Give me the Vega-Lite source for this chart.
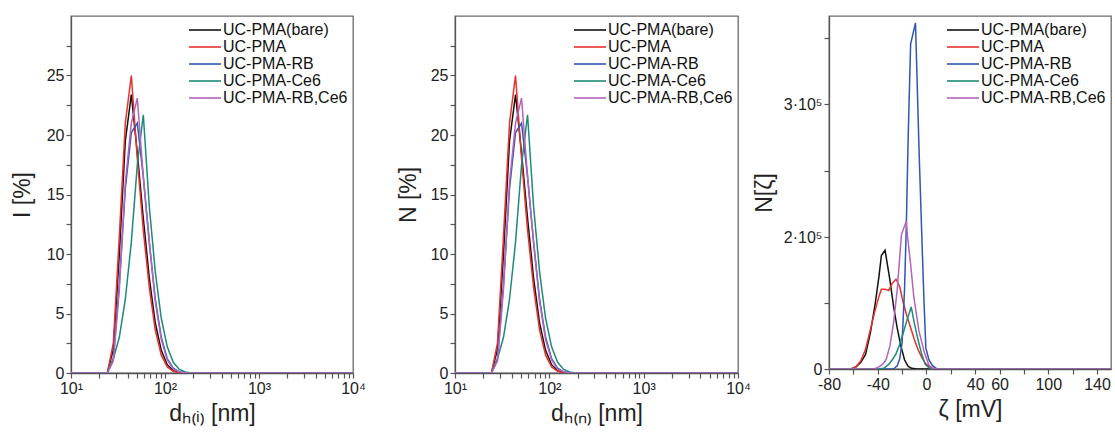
{
  "$schema": "https://vega.github.io/schema/vega-lite/v6.json",
  "background": "white",
  "padding": {"left": 10, "top": 15, "right": 0, "bottom": 0},
  "config": {
    "font": "Liberation Sans",
    "view": {"stroke": "#6a6a6a", "strokeWidth": 1.3},
    "axis": {"domainColor": "#555", "domainWidth": 1.3, "tickColor": "#555", "tickWidth": 1.2, "labelColor": "#222", "titleColor": "#222", "labelFontSize": 16, "titleFontSize": 23, "titleFontWeight": "normal", "grid": false, "tickSize": 5, "labelPadding": 2, "labelFont": "Liberation Sans", "titleFont": "Liberation Sans"},
    "legend": {"orient": "top-right", "symbolType": "M-2,0H2", "symbolSize": 256, "symbolStrokeWidth": 1.6, "labelFontSize": 16, "labelColor": "#111", "labelFont": "Liberation Sans", "labelOffset": 9, "rowPadding": -2.5, "offset": 5, "padding": 0}
  },
  "datasets": {
    "size": [
      {"d": 10, "series": "UC-PMA(bare)", "I": 0, "N": 0},
      {"d": 21.04, "series": "UC-PMA(bare)", "I": 0, "N": 0},
      {"d": 24.36, "series": "UC-PMA(bare)", "I": 0, "N": 0},
      {"d": 28.21, "series": "UC-PMA(bare)", "I": 2.0, "N": 2.0},
      {"d": 32.67, "series": "UC-PMA(bare)", "I": 10.0, "N": 10.0},
      {"d": 37.84, "series": "UC-PMA(bare)", "I": 19.5, "N": 19.5},
      {"d": 43.82, "series": "UC-PMA(bare)", "I": 23.4, "N": 23.4},
      {"d": 50.75, "series": "UC-PMA(bare)", "I": 18.5, "N": 18.5},
      {"d": 58.77, "series": "UC-PMA(bare)", "I": 13.0, "N": 13.0},
      {"d": 68.06, "series": "UC-PMA(bare)", "I": 8.0, "N": 8.0},
      {"d": 78.82, "series": "UC-PMA(bare)", "I": 4.2, "N": 4.2},
      {"d": 91.28, "series": "UC-PMA(bare)", "I": 1.9, "N": 1.9},
      {"d": 105.7, "series": "UC-PMA(bare)", "I": 0.7, "N": 0.7},
      {"d": 122.4, "series": "UC-PMA(bare)", "I": 0.2, "N": 0.2},
      {"d": 141.8, "series": "UC-PMA(bare)", "I": 0.05, "N": 0.05},
      {"d": 164.2, "series": "UC-PMA(bare)", "I": 0, "N": 0},
      {"d": 10000, "series": "UC-PMA(bare)", "I": 0, "N": 0},
      {"d": 10, "series": "UC-PMA", "I": 0, "N": 0},
      {"d": 21.04, "series": "UC-PMA", "I": 0, "N": 0},
      {"d": 24.36, "series": "UC-PMA", "I": 0, "N": 0},
      {"d": 28.21, "series": "UC-PMA", "I": 2.5, "N": 2.5},
      {"d": 32.67, "series": "UC-PMA", "I": 11.5, "N": 11.5},
      {"d": 37.84, "series": "UC-PMA", "I": 21.0, "N": 21.0},
      {"d": 43.82, "series": "UC-PMA", "I": 25.0, "N": 25.0},
      {"d": 50.75, "series": "UC-PMA", "I": 18.0, "N": 18.0},
      {"d": 58.77, "series": "UC-PMA", "I": 12.0, "N": 12.0},
      {"d": 68.06, "series": "UC-PMA", "I": 7.2, "N": 7.2},
      {"d": 78.82, "series": "UC-PMA", "I": 3.6, "N": 3.6},
      {"d": 91.28, "series": "UC-PMA", "I": 1.5, "N": 1.5},
      {"d": 105.7, "series": "UC-PMA", "I": 0.5, "N": 0.5},
      {"d": 122.4, "series": "UC-PMA", "I": 0.15, "N": 0.15},
      {"d": 141.8, "series": "UC-PMA", "I": 0, "N": 0},
      {"d": 10000, "series": "UC-PMA", "I": 0, "N": 0},
      {"d": 10, "series": "UC-PMA-RB", "I": 0, "N": 0},
      {"d": 21.04, "series": "UC-PMA-RB", "I": 0, "N": 0},
      {"d": 24.36, "series": "UC-PMA-RB", "I": 0, "N": 0},
      {"d": 28.21, "series": "UC-PMA-RB", "I": 1.2, "N": 1.2},
      {"d": 32.67, "series": "UC-PMA-RB", "I": 7.5, "N": 7.5},
      {"d": 37.84, "series": "UC-PMA-RB", "I": 15.5, "N": 15.5},
      {"d": 43.82, "series": "UC-PMA-RB", "I": 20.2, "N": 20.2},
      {"d": 50.75, "series": "UC-PMA-RB", "I": 21.0, "N": 21.0},
      {"d": 58.77, "series": "UC-PMA-RB", "I": 16.5, "N": 16.5},
      {"d": 68.06, "series": "UC-PMA-RB", "I": 11.0, "N": 11.0},
      {"d": 78.82, "series": "UC-PMA-RB", "I": 6.2, "N": 6.2},
      {"d": 91.28, "series": "UC-PMA-RB", "I": 3.0, "N": 3.0},
      {"d": 105.7, "series": "UC-PMA-RB", "I": 1.2, "N": 1.2},
      {"d": 122.4, "series": "UC-PMA-RB", "I": 0.4, "N": 0.4},
      {"d": 141.8, "series": "UC-PMA-RB", "I": 0.1, "N": 0.1},
      {"d": 164.2, "series": "UC-PMA-RB", "I": 0, "N": 0},
      {"d": 10000, "series": "UC-PMA-RB", "I": 0, "N": 0},
      {"d": 10, "series": "UC-PMA-Ce6", "I": 0, "N": 0},
      {"d": 21.04, "series": "UC-PMA-Ce6", "I": 0, "N": 0},
      {"d": 24.36, "series": "UC-PMA-Ce6", "I": 0, "N": 0},
      {"d": 28.21, "series": "UC-PMA-Ce6", "I": 1.2, "N": 1.2},
      {"d": 32.67, "series": "UC-PMA-Ce6", "I": 3.0, "N": 3.0},
      {"d": 37.84, "series": "UC-PMA-Ce6", "I": 6.2, "N": 6.2},
      {"d": 43.82, "series": "UC-PMA-Ce6", "I": 11.0, "N": 11.0},
      {"d": 50.75, "series": "UC-PMA-Ce6", "I": 17.5, "N": 17.5},
      {"d": 58.77, "series": "UC-PMA-Ce6", "I": 21.7, "N": 21.7},
      {"d": 68.06, "series": "UC-PMA-Ce6", "I": 14.0, "N": 14.0},
      {"d": 78.82, "series": "UC-PMA-Ce6", "I": 8.5, "N": 8.5},
      {"d": 91.28, "series": "UC-PMA-Ce6", "I": 4.6, "N": 4.6},
      {"d": 105.7, "series": "UC-PMA-Ce6", "I": 2.2, "N": 2.2},
      {"d": 122.4, "series": "UC-PMA-Ce6", "I": 0.9, "N": 0.9},
      {"d": 141.8, "series": "UC-PMA-Ce6", "I": 0.3, "N": 0.3},
      {"d": 164.2, "series": "UC-PMA-Ce6", "I": 0.08, "N": 0.08},
      {"d": 190.1, "series": "UC-PMA-Ce6", "I": 0, "N": 0},
      {"d": 10000, "series": "UC-PMA-Ce6", "I": 0, "N": 0},
      {"d": 10, "series": "UC-PMA-RB,Ce6", "I": 0, "N": 0},
      {"d": 21.04, "series": "UC-PMA-RB,Ce6", "I": 0, "N": 0},
      {"d": 24.36, "series": "UC-PMA-RB,Ce6", "I": 0, "N": 0},
      {"d": 28.21, "series": "UC-PMA-RB,Ce6", "I": 1.0, "N": 1.0},
      {"d": 32.67, "series": "UC-PMA-RB,Ce6", "I": 7.0, "N": 7.0},
      {"d": 37.84, "series": "UC-PMA-RB,Ce6", "I": 16.0, "N": 16.0},
      {"d": 43.82, "series": "UC-PMA-RB,Ce6", "I": 21.0, "N": 21.0},
      {"d": 50.75, "series": "UC-PMA-RB,Ce6", "I": 23.1, "N": 23.1},
      {"d": 58.77, "series": "UC-PMA-RB,Ce6", "I": 16.5, "N": 16.5},
      {"d": 68.06, "series": "UC-PMA-RB,Ce6", "I": 11.0, "N": 11.0},
      {"d": 78.82, "series": "UC-PMA-RB,Ce6", "I": 6.0, "N": 6.0},
      {"d": 91.28, "series": "UC-PMA-RB,Ce6", "I": 2.8, "N": 2.8},
      {"d": 105.7, "series": "UC-PMA-RB,Ce6", "I": 1.1, "N": 1.1},
      {"d": 122.4, "series": "UC-PMA-RB,Ce6", "I": 0.35, "N": 0.35},
      {"d": 141.8, "series": "UC-PMA-RB,Ce6", "I": 0.1, "N": 0.1},
      {"d": 164.2, "series": "UC-PMA-RB,Ce6", "I": 0, "N": 0},
      {"d": 10000, "series": "UC-PMA-RB,Ce6", "I": 0, "N": 0}
    ],
    "zeta": [
      {"mV": -80, "series": "UC-PMA(bare)", "n": 0},
      {"mV": -62, "series": "UC-PMA(bare)", "n": 0},
      {"mV": -58, "series": "UC-PMA(bare)", "n": 3000},
      {"mV": -54, "series": "UC-PMA(bare)", "n": 10000},
      {"mV": -50, "series": "UC-PMA(bare)", "n": 22000},
      {"mV": -46, "series": "UC-PMA(bare)", "n": 55000},
      {"mV": -42, "series": "UC-PMA(bare)", "n": 100000},
      {"mV": -39, "series": "UC-PMA(bare)", "n": 140000},
      {"mV": -37, "series": "UC-PMA(bare)", "n": 172000},
      {"mV": -34, "series": "UC-PMA(bare)", "n": 180000},
      {"mV": -30, "series": "UC-PMA(bare)", "n": 135000},
      {"mV": -27, "series": "UC-PMA(bare)", "n": 95000},
      {"mV": -24, "series": "UC-PMA(bare)", "n": 62000},
      {"mV": -21, "series": "UC-PMA(bare)", "n": 35000},
      {"mV": -18, "series": "UC-PMA(bare)", "n": 14000},
      {"mV": -15, "series": "UC-PMA(bare)", "n": 4000},
      {"mV": -12, "series": "UC-PMA(bare)", "n": 1000},
      {"mV": -8, "series": "UC-PMA(bare)", "n": 0},
      {"mV": 151.5, "series": "UC-PMA(bare)", "n": 0},
      {"mV": -80, "series": "UC-PMA", "n": 0},
      {"mV": -62, "series": "UC-PMA", "n": 0},
      {"mV": -58, "series": "UC-PMA", "n": 3000},
      {"mV": -54, "series": "UC-PMA", "n": 12000},
      {"mV": -50, "series": "UC-PMA", "n": 30000},
      {"mV": -46, "series": "UC-PMA", "n": 60000},
      {"mV": -42, "series": "UC-PMA", "n": 90000},
      {"mV": -39, "series": "UC-PMA", "n": 110000},
      {"mV": -37, "series": "UC-PMA", "n": 121000},
      {"mV": -34, "series": "UC-PMA", "n": 121000},
      {"mV": -31, "series": "UC-PMA", "n": 119000},
      {"mV": -28, "series": "UC-PMA", "n": 130000},
      {"mV": -25, "series": "UC-PMA", "n": 136000},
      {"mV": -22, "series": "UC-PMA", "n": 125000},
      {"mV": -19, "series": "UC-PMA", "n": 100000},
      {"mV": -16, "series": "UC-PMA", "n": 80000},
      {"mV": -13, "series": "UC-PMA", "n": 63000},
      {"mV": -10, "series": "UC-PMA", "n": 45000},
      {"mV": -7, "series": "UC-PMA", "n": 30000},
      {"mV": -4, "series": "UC-PMA", "n": 18000},
      {"mV": -1, "series": "UC-PMA", "n": 9000},
      {"mV": 2, "series": "UC-PMA", "n": 4000},
      {"mV": 5, "series": "UC-PMA", "n": 1000},
      {"mV": 8, "series": "UC-PMA", "n": 0},
      {"mV": 151.5, "series": "UC-PMA", "n": 0},
      {"mV": -80, "series": "UC-PMA-RB", "n": 0},
      {"mV": -27, "series": "UC-PMA-RB", "n": 0},
      {"mV": -24, "series": "UC-PMA-RB", "n": 5000},
      {"mV": -22, "series": "UC-PMA-RB", "n": 15000},
      {"mV": -20, "series": "UC-PMA-RB", "n": 40000},
      {"mV": -18, "series": "UC-PMA-RB", "n": 120000},
      {"mV": -16.5, "series": "UC-PMA-RB", "n": 210000},
      {"mV": -15, "series": "UC-PMA-RB", "n": 275000},
      {"mV": -13, "series": "UC-PMA-RB", "n": 345000},
      {"mV": -9, "series": "UC-PMA-RB", "n": 361000},
      {"mV": -6, "series": "UC-PMA-RB", "n": 263000},
      {"mV": -4, "series": "UC-PMA-RB", "n": 206000},
      {"mV": -2, "series": "UC-PMA-RB", "n": 102000},
      {"mV": -0.5, "series": "UC-PMA-RB", "n": 32000},
      {"mV": 2, "series": "UC-PMA-RB", "n": 14000},
      {"mV": 5, "series": "UC-PMA-RB", "n": 5000},
      {"mV": 9, "series": "UC-PMA-RB", "n": 0},
      {"mV": 151.5, "series": "UC-PMA-RB", "n": 0},
      {"mV": -80, "series": "UC-PMA-Ce6", "n": 0},
      {"mV": -40, "series": "UC-PMA-Ce6", "n": 0},
      {"mV": -35, "series": "UC-PMA-Ce6", "n": 1000},
      {"mV": -31, "series": "UC-PMA-Ce6", "n": 7000},
      {"mV": -28, "series": "UC-PMA-Ce6", "n": 14000},
      {"mV": -25, "series": "UC-PMA-Ce6", "n": 23000},
      {"mV": -22, "series": "UC-PMA-Ce6", "n": 37000},
      {"mV": -19, "series": "UC-PMA-Ce6", "n": 55000},
      {"mV": -16, "series": "UC-PMA-Ce6", "n": 74000},
      {"mV": -12.5, "series": "UC-PMA-Ce6", "n": 94000},
      {"mV": -10, "series": "UC-PMA-Ce6", "n": 70000},
      {"mV": -7, "series": "UC-PMA-Ce6", "n": 45000},
      {"mV": -4, "series": "UC-PMA-Ce6", "n": 23000},
      {"mV": -1, "series": "UC-PMA-Ce6", "n": 7000},
      {"mV": 2, "series": "UC-PMA-Ce6", "n": 2000},
      {"mV": 5, "series": "UC-PMA-Ce6", "n": 0},
      {"mV": 151.5, "series": "UC-PMA-Ce6", "n": 0},
      {"mV": -80, "series": "UC-PMA-RB,Ce6", "n": 0},
      {"mV": -44, "series": "UC-PMA-RB,Ce6", "n": 0},
      {"mV": -40, "series": "UC-PMA-RB,Ce6", "n": 2000},
      {"mV": -36, "series": "UC-PMA-RB,Ce6", "n": 7000},
      {"mV": -33, "series": "UC-PMA-RB,Ce6", "n": 15000},
      {"mV": -30, "series": "UC-PMA-RB,Ce6", "n": 35000},
      {"mV": -27, "series": "UC-PMA-RB,Ce6", "n": 70000},
      {"mV": -24, "series": "UC-PMA-RB,Ce6", "n": 120000},
      {"mV": -20.5, "series": "UC-PMA-RB,Ce6", "n": 202000},
      {"mV": -16.5, "series": "UC-PMA-RB,Ce6", "n": 212000},
      {"mV": -15.5, "series": "UC-PMA-RB,Ce6", "n": 200000},
      {"mV": -13, "series": "UC-PMA-RB,Ce6", "n": 159000},
      {"mV": -10.3, "series": "UC-PMA-RB,Ce6", "n": 108000},
      {"mV": -6.2, "series": "UC-PMA-RB,Ce6", "n": 58000},
      {"mV": -2, "series": "UC-PMA-RB,Ce6", "n": 27000},
      {"mV": 2, "series": "UC-PMA-RB,Ce6", "n": 6000},
      {"mV": 5, "series": "UC-PMA-RB,Ce6", "n": 1500},
      {"mV": 8, "series": "UC-PMA-RB,Ce6", "n": 0},
      {"mV": 151.5, "series": "UC-PMA-RB,Ce6", "n": 0}
    ]
  },
  "hconcat": [
    {
      "hconcat": [
        {
          "width": 282, "height": 357,
          "data": {"name": "size"},
          "mark": {"type": "line", "strokeWidth": 1.5, "clip": true},
          "encoding": {
            "x": {"field": "d", "type": "quantitative",
              "scale": {"type": "log", "domain": [10, 10000], "nice": false},
              "axis": {"title": "dₕ₍ᵢ₎ [nm]", "titlePadding": 6, "labelFlush": false,
                "values": [10,20,30,40,50,60,70,80,90,100,200,300,400,500,600,700,800,900,1000,2000,3000,4000,5000,6000,7000,8000,9000,10000],
                "labelExpr": "datum.value === 10 ? '10¹' : datum.value === 100 ? '10²' : datum.value === 1000 ? '10³' : datum.value === 10000 ? '10⁴' : ''"}},
            "y": {"field": "I", "type": "quantitative",
              "scale": {"domain": [0, 30], "nice": false, "zero": true},
              "axis": {"title": "I [%]", "titlePadding": 12,
                "values": [0, 2.5, 5, 7.5, 10, 12.5, 15, 17.5, 20, 22.5, 25, 27.5],
                "labelExpr": "datum.value % 5 === 0 ? format(datum.value, 'd') : ''"}},
            "color": {"field": "series", "type": "nominal",
              "scale": {"domain": ["UC-PMA(bare)", "UC-PMA", "UC-PMA-RB", "UC-PMA-Ce6", "UC-PMA-RB,Ce6"], "range": ["#111111", "#e8312c", "#2f55b5", "#1d8a7a", "#b464bc"]},
              "legend": {"title": null}}
          }
        },
        {
          "width": 283, "height": 357,
          "data": {"name": "size"},
          "mark": {"type": "line", "strokeWidth": 1.5, "clip": true},
          "encoding": {
            "x": {"field": "d", "type": "quantitative",
              "scale": {"type": "log", "domain": [10, 10000], "nice": false},
              "axis": {"title": "dₕ₍ₙ₎ [nm]", "titlePadding": 6, "labelFlush": false,
                "values": [10,20,30,40,50,60,70,80,90,100,200,300,400,500,600,700,800,900,1000,2000,3000,4000,5000,6000,7000,8000,9000,10000],
                "labelExpr": "datum.value === 10 ? '10¹' : datum.value === 100 ? '10²' : datum.value === 1000 ? '10³' : datum.value === 10000 ? '10⁴' : ''"}},
            "y": {"field": "N", "type": "quantitative",
              "scale": {"domain": [0, 30], "nice": false, "zero": true},
              "axis": {"title": "N [%]", "titlePadding": 10,
                "values": [0, 2.5, 5, 7.5, 10, 12.5, 15, 17.5, 20, 22.5, 25, 27.5],
                "labelExpr": "datum.value % 5 === 0 ? format(datum.value, 'd') : ''"}},
            "color": {"field": "series", "type": "nominal",
              "scale": {"domain": ["UC-PMA(bare)", "UC-PMA", "UC-PMA-RB", "UC-PMA-Ce6", "UC-PMA-RB,Ce6"], "range": ["#111111", "#e8312c", "#2f55b5", "#1d8a7a", "#b464bc"]},
              "legend": {"title": null}}
          }
        }
      ],
      "spacing": 30,
      "resolve": {"legend": {"color": "independent"}}
    },
    {
      "width": 282, "height": 353,
      "data": {"name": "zeta"},
      "mark": {"type": "line", "strokeWidth": 1.5, "clip": true},
      "encoding": {
        "x": {"field": "mV", "type": "quantitative",
          "scale": {"domain": [-80, 151.5], "nice": false, "zero": false},
          "axis": {"title": "ζ [mV]", "titlePadding": 6, "labelFlush": false,
            "values": [-80, -60, -40, -20, 0, 20, 40, 60, 80, 100, 120, 140],
            "labelExpr": "(datum.value === -80 || datum.value === -40 || datum.value === 0 || datum.value === 40 || datum.value === 60 || datum.value === 100 || datum.value === 140) ? ('' + datum.value) : ''"}},
        "y": {"field": "n", "type": "quantitative",
          "scale": {"domain": [0, 200000, 366200], "range": [353, 221, 0], "nice": false, "zero": false},
          "axis": {"title": "N[ζ]", "titlePadding": 7,
            "values": [0, 100000, 200000, 250000, 300000, 350000],
            "labelExpr": "datum.value === 0 ? '0' : datum.value === 200000 ? '2·10⁵' : datum.value === 300000 ? '3·10⁵' : ''"}},
        "color": {"field": "series", "type": "nominal",
          "scale": {"domain": ["UC-PMA(bare)", "UC-PMA", "UC-PMA-RB", "UC-PMA-Ce6", "UC-PMA-RB,Ce6"], "range": ["#111111", "#e8312c", "#2f55b5", "#1d8a7a", "#b464bc"]},
          "legend": {"title": null}}
      }
    }
  ],
  "spacing": 1,
  "resolve": {"legend": {"color": "independent"}}
}
